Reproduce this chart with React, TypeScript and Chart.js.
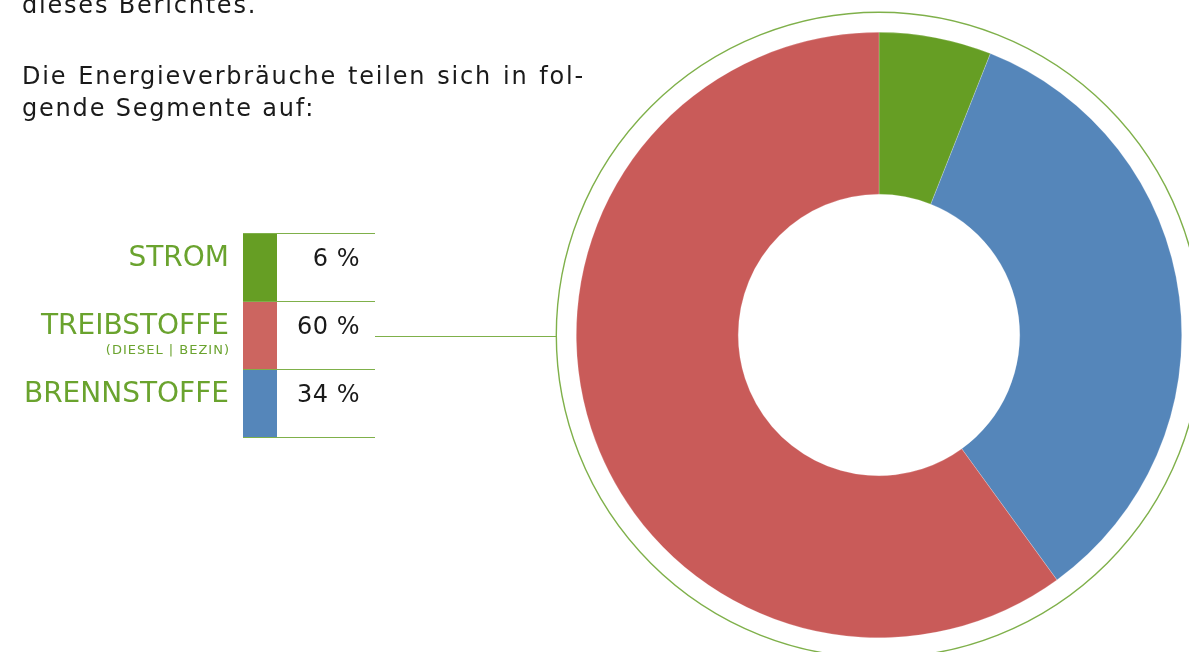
import React, { useEffect, useRef } from "react";
import { Chart, registerables } from "chart.js";

Chart.register(...registerables);

const categories = ["STROM", "BRENNSTOFFE", "TREIBSTOFFE"];
const values = [6, 34, 60];
const sliceColors = ["#669E24", "#5586BA", "#C95B59"];

const legendOrder = ["STROM", "TREIBSTOFFE", "BRENNSTOFFE"];
const legendSub = ["", "(DIESEL | BEZIN)", ""];
const legendBoxColors = ["#669E24", "#CC6560", "#5586BA"];

const FONT = "'DejaVu Sans', sans-serif";
const TEXT_GREEN = "#6AA32E";
const LINE_GREEN = "#7FB04A";

export default function App() {
  const canvasRef = useRef<HTMLCanvasElement | null>(null);

  useEffect(() => {
    document.body.style.margin = "0";
    const ringPlugin = {
      id: "ring",
      afterDraw(chart: any) {
        const meta = chart.getDatasetMeta(0);
        const arc = meta.data[0];
        if (!arc) return;
        const { x, y, outerRadius } = arc.getProps(["x", "y", "outerRadius"], true);
        const ctx = chart.ctx;
        const r = outerRadius + 20;
        ctx.save();
        ctx.strokeStyle = LINE_GREEN;
        ctx.lineWidth = 1.4;
        ctx.beginPath();
        ctx.arc(x, y, r, 0, Math.PI * 2);
        ctx.stroke();
        ctx.lineWidth = 1;
        ctx.beginPath();
        ctx.moveTo(375, Math.round(y) + 1.5);
        ctx.lineTo(x - r, Math.round(y) + 1.5);
        ctx.stroke();
        ctx.restore();
      },
    };
    const chart = new Chart(canvasRef.current!, {
      type: "doughnut",
      data: {
        labels: categories,
        datasets: [
          {
            data: values,
            backgroundColor: sliceColors,
            borderColor: "rgba(255,255,255,0.35)",
            borderWidth: 0.6,
          },
        ],
      },
      options: {
        animation: false,
        responsive: false,
        cutout: "46.5%",
        layout: { padding: { left: 576, top: 32, right: 7, bottom: 14 } },
        plugins: { legend: { display: false }, tooltip: { enabled: false } },
      },
      plugins: [ringPlugin],
    });
    return () => chart.destroy();
  }, []);

  const rowTop = 233;
  const rowH = 68;

  const bodyText: React.CSSProperties = {
    fontSize: 24,
    color: "#1a1a1a",
    letterSpacing: 1.8,
    lineHeight: "32px",
    whiteSpace: "nowrap",
  };

  return (
    <div
      style={{
        position: "fixed",
        left: 0,
        top: 0,
        width: 1189,
        height: 652,
        overflow: "hidden",
        background: "#fff",
        fontFamily: FONT,
      }}
    >
      <canvas
        ref={canvasRef}
        width={1189}
        height={652}
        style={{ position: "absolute", left: 0, top: 0, width: 1189, height: 652 }}
      />
      <div style={{ ...bodyText, position: "absolute", left: 22, top: -11 }}>
        dieses Berichtes.
      </div>
      <div style={{ ...bodyText, position: "absolute", left: 22, top: 60, width: 563 }}>
        <div style={{ textAlign: "justify", textAlignLast: "justify" as any, whiteSpace: "normal" }}>
          Die Energieverbräuche teilen sich in fol-
        </div>
        <div>gende Segmente auf:</div>
      </div>
      {legendOrder.map((name, i) => {
        const idx = categories.indexOf(name);
        const top = rowTop + i * rowH;
        return (
          <React.Fragment key={name}>
            <div
              style={{
                position: "absolute",
                left: 243,
                top,
                width: 34,
                height: rowH,
                background: legendBoxColors[i],
              }}
            />
            <div
              style={{
                position: "absolute",
                left: 243,
                top,
                width: 132,
                height: 1,
                background: LINE_GREEN,
              }}
            />
            <div
              style={{
                position: "absolute",
                right: 1189 - 229,
                top: top + 7,
                fontSize: 28,
                lineHeight: "34px",
                color: TEXT_GREEN,
                letterSpacing: 0,
                whiteSpace: "nowrap",
                textAlign: "right",
              }}
            >
              {name}
            </div>
            {legendSub[i] && (
              <div
                style={{
                  position: "absolute",
                  right: 1189 - 230,
                  top: top + 41,
                  fontSize: 13,
                  lineHeight: "16px",
                  color: TEXT_GREEN,
                  letterSpacing: 1,
                  whiteSpace: "nowrap",
                }}
              >
                {legendSub[i]}
              </div>
            )}
            <div
              style={{
                position: "absolute",
                right: 1189 - 360,
                top: top + 9,
                fontSize: 24,
                lineHeight: "32px",
                color: "#1a1a1a",
                letterSpacing: 0.5,
                whiteSpace: "nowrap",
              }}
            >
              {values[idx]} %
            </div>
          </React.Fragment>
        );
      })}
      <div
        style={{
          position: "absolute",
          left: 243,
          top: rowTop + 3 * rowH,
          width: 132,
          height: 1,
          background: LINE_GREEN,
        }}
      />
    </div>
  );
}
